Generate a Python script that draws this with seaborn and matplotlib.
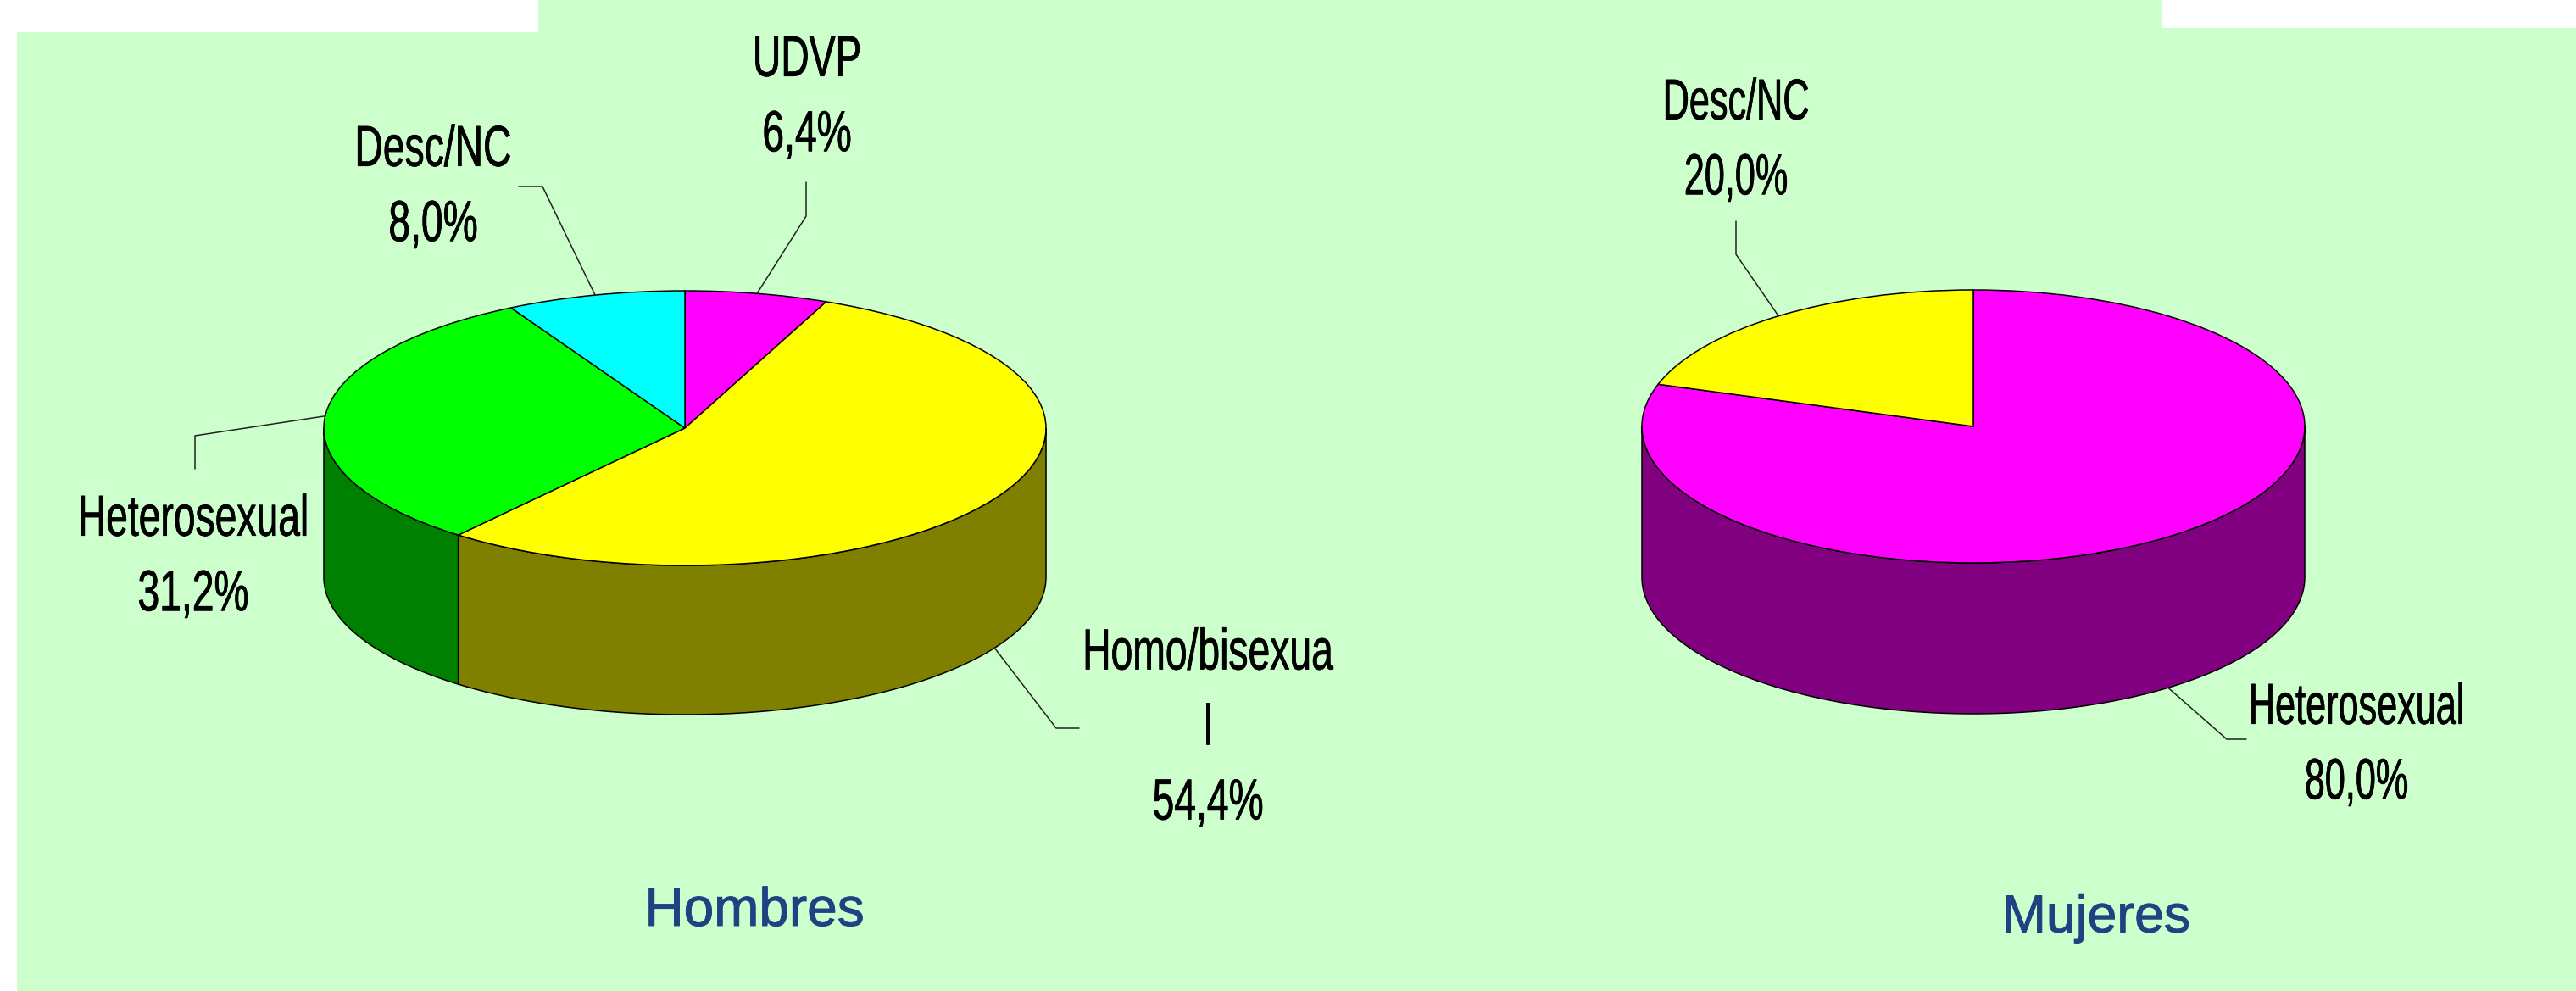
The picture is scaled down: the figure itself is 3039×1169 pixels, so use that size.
#!/usr/bin/env python3
# -*- coding: utf-8 -*-
import numpy as np
import seaborn as sns
import matplotlib
matplotlib.use("Agg")
import matplotlib.pyplot as plt
import matplotlib.patheffects as pe
from matplotlib import font_manager as fm
from matplotlib.patches import Rectangle
from fontTools.ttLib import TTFont

#%% data
men_labels = ["UDVP", "Homo/bisexua\nl", "Heterosexual", "Desc/NC"]
men_values = [6.4, 54.4, 31.2, 8.0]
men_top = ["#FF00FF", "#FFFF00", "#00FF00", "#00FFFF"]
men_side = ["#800080", "#808000", "#008000", "#008080"]

women_labels = ["Heterosexual", "Desc/NC"]
women_values = [80.0, 20.0]
women_top = ["#FF00FF", "#FFFF00"]
women_side = ["#800080", "#808000"]

#%% layout, all in pixels of the final picture
W, H = 3039, 1169
BG = "#CCFFCC"
TEXT_BLUE = "#1F4283"
LABEL_SIZE = 49
LABEL_SPACING = 1.49

sns.set_theme(style="white")
plt.rcParams['font.family'] = ['Liberation Sans', 'DejaVu Sans']


#%% the labels are squeezed sideways in the original, no narrow font installed
def narrow_font(scale, out):
    font = TTFont(fm.findfont("Liberation Sans"))
    glyf = font["glyf"]
    for name in glyf.keys():
        g = glyf[name]
        if g.isComposite():
            for c in g.components:
                c.x = int(c.x * scale)
        elif g.numberOfContours > 0:
            g.coordinates.scale((scale, 1))
            g.coordinates.toInt()
        g.recalcBounds(glyf)
        adv, lsb = font["hmtx"].metrics[name]
        font["hmtx"].metrics[name] = (int(adv * scale), int(lsb * scale))
    if "kern" in font:
        del font["kern"]
    font.save(out)
    return fm.FontProperties(fname=out, size=LABEL_SIZE)


men_font = narrow_font(0.68, "narrow_men.ttf")
women_font = narrow_font(0.635, "narrow_women.ttf")

fig = plt.figure(figsize=(W / 100, H / 100), dpi=100, facecolor="white")


def box(x0, y0, x1, y1, color):
    fig.patches.append(Rectangle((x0 / W, 1 - y1 / H), (x1 - x0) / W, (y1 - y0) / H,
                                 transform=fig.transFigure, facecolor=color,
                                 edgecolor="none", zorder=-5))


box(20, 0, W, H, BG)
box(0, 0, 635, 38, "white")
box(2550, 0, W, 33, "white")


def draw_pie(values, tops, sides, labels, cx, cy, rx, ry, depth, leaders, text_pos, font):
    ax = fig.add_axes([0, 0, 1, 1])
    ax.pie(values, colors=tops, startangle=90, counterclock=False, radius=1,
           wedgeprops=dict(edgecolor="black", linewidth=1.1, zorder=3))
    # unit circle of the pie becomes the ellipse of the 3d look
    ax.set_aspect("auto")
    ax.set_xlim(-cx / rx, (W - cx) / rx)
    ax.set_ylim((cy - H) / ry, cy / ry)
    d = depth / ry

    edges = np.cumsum([0] + list(values)) / np.sum(values) * 360
    for i, col in enumerate(sides):
        a0, a1 = max(edges[i], 90), min(edges[i + 1], 270)
        if a1 <= a0:
            continue
        t = np.radians(np.linspace(a0, a1, 120))
        x = np.sin(t)
        y = np.cos(t)
        ax.fill(np.r_[x, x[::-1]], np.r_[y, y[::-1] - d], facecolor=col,
                edgecolor="black", linewidth=1.1, zorder=1)

    # leaders start from the middle of each slice
    for i, lab in enumerate(labels):
        mid = np.radians((edges[i] + edges[i + 1]) / 2)
        x0, y0 = np.sin(mid), np.cos(mid)
        if np.cos(mid) < 0:
            y0 = y0 - d
        pts = leaders[i]
        xs = [x0] + [(p[0] - cx) / rx for p in pts]
        ys = [y0] + [(cy - p[1]) / ry for p in pts]
        ax.plot(xs, ys, color="#222222", lw=1.1, zorder=2, solid_joinstyle="miter")
        txt = "{}\n{:.1f}%".format(lab, values[i]).replace(".", ",")
        tx, ty = text_pos[i]
        fig.text(tx / W, 1 - ty / H, txt, ha="center", va="center", color="black",
                 fontproperties=font, linespacing=LABEL_SPACING,
                 path_effects=[pe.withStroke(linewidth=0.5, foreground="black")])
    return ax


#%% men
draw_pie(men_values, men_top, men_side, men_labels,
         808, 505, 426, 162, 176,
         [[(951, 255), (951, 215)],
          [(1246, 859), (1273, 859)],
          [(230, 514), (230, 553)],
          [(640, 220), (612, 220)]],
         [(952, 116), (1425, 860), (228, 658), (511, 222)], men_font)

#%% women
draw_pie(women_values, women_top, women_side, women_labels,
         2328, 503, 391, 161, 178,
         [[(2627, 872), (2650, 872)],
          [(2048, 300), (2048, 261)]],
         [(2780, 880), (2048, 167)], women_font)

halo = [pe.withStroke(linewidth=0.7, foreground=TEXT_BLUE)]
fig.text(890 / W, 1 - 1075 / H, "Hombres", ha="center", va="center",
         color=TEXT_BLUE, fontsize=46, path_effects=halo)
fig.text(2473 / W, 1 - 1083 / H, "Mujeres", ha="center", va="center",
         color=TEXT_BLUE, fontsize=45, path_effects=halo)

fig.savefig("out.png", dpi=100, facecolor="white")
